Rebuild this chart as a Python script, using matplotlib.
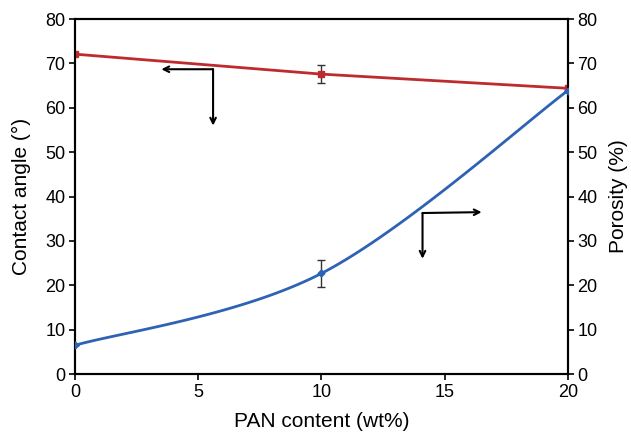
import numpy as np
import matplotlib
matplotlib.use("Agg")
import matplotlib.pyplot as plt

plt.rcParams["font.family"] = ["Liberation Sans", "DejaVu Sans"]

# Datos
pan_content = [0, 10, 20]
contact_angle = [72.1, 67.6, 64.4]
contact_err = [0, 2.0, 0]
porosity = [6.5, 22.7, 63.9]
porosity_err = [0, 3.0, 0]

y_ticks = [0, 10, 20, 30, 40, 50, 60, 70, 80]
x_ticks = [0, 5, 10, 15, 20]

# flechas (esquina, fin horizontal, fin vertical)
arrow_red = [(5.6, 68.7), (3.5, 68.7), (5.6, 56.0)]
arrow_blue = [(14.1, 36.3), (16.5, 36.5), (14.1, 26.0)]

red = "#BE2B2E"
blue = "#2E62B4"


# Curva suavizada estilo Excel (bezier con puntos de control a 1/6)
def suavizar(x, y, n=60):
    p = np.column_stack([x, y]).astype(float)
    ext = np.vstack([p[0], p, p[-1]])
    out = []
    for i in range(len(p) - 1):
        p0, p1 = ext[i + 1], ext[i + 2]
        c1 = p0 + (ext[i + 2] - ext[i]) / 6
        c2 = p1 - (ext[i + 3] - ext[i + 1]) / 6
        t = np.linspace(0, 1, n)[:, None]
        seg = (1 - t) ** 3 * p0 + 3 * (1 - t) ** 2 * t * c1 + 3 * (1 - t) * t ** 2 * c2 + t ** 3 * p1
        out.append(seg)
    out = np.vstack(out)
    return out[:, 0], out[:, 1]


fig = plt.figure(figsize=(6.31, 4.34), dpi=100)
ax = fig.add_axes([0.119, 0.138, 0.781, 0.818])
ax2 = ax.twinx()

# linea roja (angulo de contacto)
ax.plot(pan_content, contact_angle, color=red, lw=2, marker="s", ms=4, zorder=3)
ax.errorbar(pan_content, contact_angle, yerr=contact_err, fmt="none", ecolor="#333333",
            elinewidth=1, capsize=3, zorder=2)

# linea azul (porosidad)
xs, ys = suavizar(pan_content, porosity)
ax2.plot(xs, ys, color=blue, lw=2, zorder=3)
ax2.plot(pan_content, porosity, ls="none", color=blue, marker="D", ms=3.5, zorder=3)
ax2.errorbar(pan_content, porosity, yerr=porosity_err, fmt="none", ecolor="#333333",
             elinewidth=1, capsize=3, zorder=2)

for a in (ax, ax2):
    a.set_xlim(0, 20)
    a.set_ylim(0, 80)
    a.set_yticks(y_ticks)
    a.tick_params(direction="out", length=4, width=1.2, labelsize=13, pad=3)
    for s in a.spines.values():
        s.set_linewidth(1.5)

ax.set_xticks(x_ticks)
ax.set_xlabel("PAN content (wt%)", fontsize=15, labelpad=8)
ax.set_ylabel("Contact angle (°)", fontsize=15, labelpad=10)
ax2.set_ylabel("Porosity (%)", fontsize=15, labelpad=8)

for c, h, v in (arrow_red, arrow_blue):
    ax.annotate("", xy=h, xytext=c, arrowprops=dict(arrowstyle="->", lw=1.5, color="black",
                                                     shrinkA=0, shrinkB=0))
    ax.annotate("", xy=v, xytext=c, arrowprops=dict(arrowstyle="->", lw=1.5, color="black",
                                                     shrinkA=0, shrinkB=0))

fig.savefig("out.png", dpi=100)
